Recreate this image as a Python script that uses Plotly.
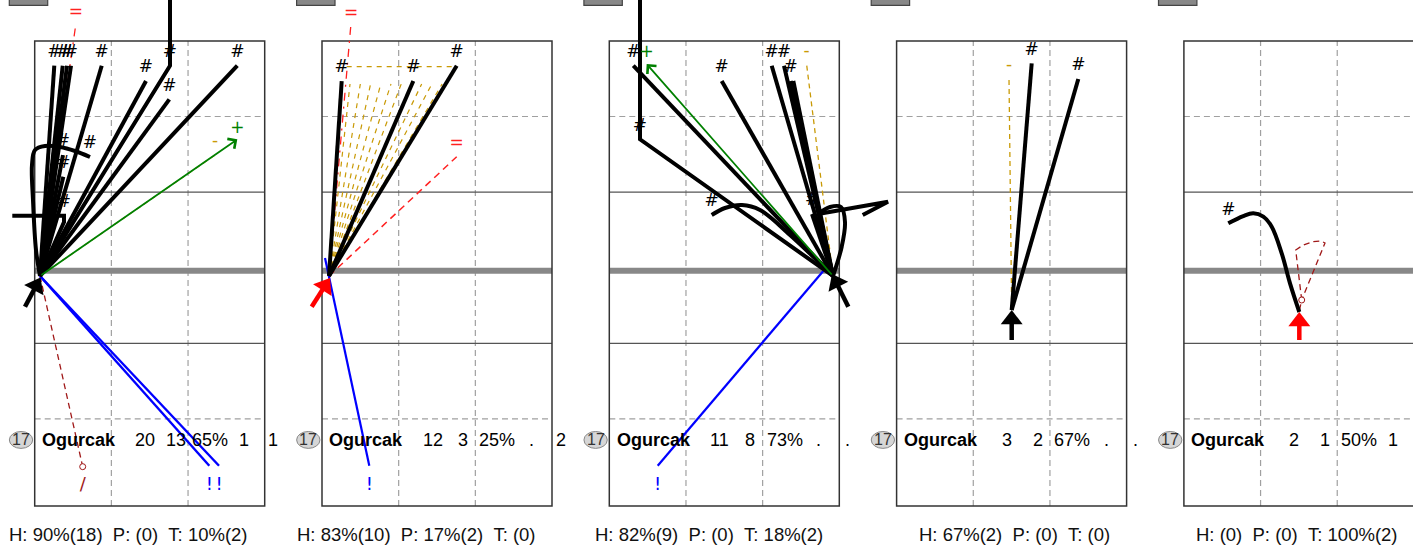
import math
import plotly.graph_objects as go

# ---------------------------------------------------------------- data
PLAYER_NO = "17"
PLAYER = "Ogurcak"
STATS = [
    ["20", "13", "65%", "1", "1"],
    ["12", "3", "25%", ".", "2"],
    ["11", "8", "73%", ".", "."],
    ["3", "2", "67%", ".", "."],
    ["2", "1", "50%", "1", "."],
]
NB = "\u00a0\u00a0"
FOOTERS = [
    "H: 90%(18)" + NB + "P: (0)" + NB + "T: 10%(2)",
    "H: 83%(10)" + NB + "P: 17%(2)" + NB + "T: (0)",
    "H: 82%(9)" + NB + "P: (0)" + NB + "T: 18%(2)",
    "H: 67%(2)" + NB + "P: (0)" + NB + "T: (0)",
    "H: (0)" + NB + "P: (0)" + NB + "T: 100%(2)",
]

# attack origins (court metres, x across 0..9, y: net = 0, positive = far court)
O1 = (0.207, -0.329)
O2 = (0.274, -0.329)
O3 = (8.753, -0.329)
O4 = (4.504, -1.678)
O5 = (4.516, -1.758)

# ---- panel 1
P1_KILLS = [
    [O1, (0.767, 8.016)],
    [O1, (1.096, 8.016)],
    [O1, (1.264, 8.016)],
    [O1, (1.420, 8.016)],
    [O1, (2.622, 8.016)],
    [O1, (4.355, 7.408)],
    [O1, (5.294, 8.016), (5.294, 11.9), (5.294, 8.016)],
    [O1, (5.267, 6.682)],
    [O1, (7.928, 8.016)],
    [O1, (1.107, 4.472)],
    [O1, (1.119, 3.611)],
    [O1, (1.147, 1.813), (1.147, 2.063), (-0.877, 2.063), (1.147, 2.063)],
]
P1_KILL_CURVES = [
    [O1, (0.051, 0.702), (-0.067, 2.686), (-0.106, 4.075), (0.012, 4.670),
     (0.403, 4.829), (0.990, 4.789), (1.577, 4.631), (2.164, 4.392)],
]
P1_PLUS = [[O1, (7.928, 5.095)]]
P1_MINUS = [[O1, (7.055, 4.472)]]
P1_EQUAL = [[O1, (1.616, 9.710)]]
P1_ERRORS = [[O1, (6.832, -7.857)], [O1, (7.212, -7.857)]]
P1_SLASH = [[O1, (1.878, -7.896)]]
P1_RECEPTION = [(-0.380, -1.548), (0.227, -0.389)]

# ---- panel 2
P2_KILLS = [
    [O2, (0.771, 7.408)],
    [O2, (3.573, 7.408)],
    [O2, (5.271, 8.016)],
]
P2_FAN = [
    [O2, (1.096, 7.289)], [O2, (1.500, 7.289)], [O2, (1.900, 7.289)],
    [O2, (2.300, 7.289)], [O2, (2.700, 7.289)], [O2, (3.100, 7.289)],
    [O2, (3.500, 7.289)], [O2, (3.900, 7.289)], [O2, (4.300, 7.289)],
    [O2, (4.700, 7.289)], [O2, (5.050, 7.600)],
    [(0.966, 7.976), (5.271, 7.976)],
]
P2_EQUAL = [[O2, (1.135, 9.698)]]
P2_EQUAL_STEP = [[O2, (5.271, 4.404)]]
P2_ERRORS = [[(0.117, 0.385), (1.851, -7.857)]]
P2_RECEPTION = [(-0.403, -1.548), (0.313, -0.409)]

# ---- panel 3
P3_KILLS = [
    [O3, (0.939, 8.016)],
    [O3, (1.201, 5.095), (1.201, 11.9), (1.201, 5.095)],
    [O3, (4.398, 7.408)],
    [O3, (6.355, 8.016)],
    [O3, (6.836, 8.016)],
    [O3, (7.098, 7.408)],
    [O3, (7.932, 2.131)],
]
P3_PLAIN = [
    [O3, (7.200, 7.408)],
    [(8.166, 2.131), (9.419, 2.369), (10.906, 2.619), (9.916, 2.091)],
]
P3_PLAIN_CURVES = [
    [O3, (9.094, 0.833), (9.223, 1.813), (9.066, 2.409), (8.636, 2.409), (8.166, 2.131)],
]
P3_KILL_CURVES = [
    [O3, (7.071, 1.298), (5.897, 2.290), (5.193, 2.488), (4.527, 2.369), (4.007, 2.091)],
]
P3_PLUS = [[O3, (1.463, 8.083)]]
P3_MINUS = [[O3, (7.724, 8.043)]]
P3_ERRORS = [[(8.440, -0.052), (1.894, -7.857)]]
P3_BLUE_MARKS = [[(8.609, 0.237), (8.714, -0.171)]]
P3_RECEPTION = [(9.352, -1.548), (8.714, -0.250)]

# ---- panel 4
P4_KILLS = [[O4, (5.286, 8.111)], [O4, (7.110, 7.488)]]
P4_MINUS = [[O4, (4.398, 7.515)]]
P4_RECEPTION = [(4.504, -2.869), (4.504, -1.678)]

# ---- panel 5
P5_KILL_CURVES = [
    [O5, (4.152, -0.619), (3.827, 0.571), (3.436, 1.627), (3.107, 2.024),
     (2.716, 2.159), (2.324, 2.051), (1.737, 1.762)],
]
P5_SLASH = [[(4.437, -2.075), (4.610, -1.282)]]
P5_ZONE = [[(4.610, -1.282), (4.375, 0.702), (4.672, 0.901), (5.063, 1.032),
            (5.365, 1.059), (5.521, 0.980), (4.610, -1.282)]]
P5_RECEPTION = [(4.516, -2.869), (4.516, -1.758)]

# ---------------------------------------------------------------- layout constants
W, H = 1413, 546
SX, SY = 25.556, 25.2          # px per metre
NET_PX = 267.7
LEFTS = [34.7, 322.0, 609.3, 896.6, 1183.9]
PAD_L, PAD_R = 34.0, 57.0
TOP, BOTTOM = 9.0, -9.456
FONT = "Liberation Sans, Arial, sans-serif"
SYMFONT = "DejaVu Sans, sans-serif"

BLACK = "#000000"
GREEN = "#008000"
GOLD = "#c99a06"
RED = "#ff2020"
DARKRED = "#a01818"
BLUE = "#0000ff"

fig = go.Figure()
annotations = []
axes = {}
for i, L in enumerate(LEFTS):
    k = "" if i == 0 else str(i + 1)
    d0 = max(0.0, L - PAD_L)
    d1 = min(float(W), L + 230 + PAD_R)
    axes["xaxis" + k] = dict(domain=[d0 / W, d1 / W], range=[(d0 - L) / SX, (d1 - L) / SX],
                             visible=False, fixedrange=True, anchor="y" + k)
    axes["yaxis" + k] = dict(domain=[0, 1], range=[(NET_PX - H) / SY, NET_PX / SY],
                             visible=False, fixedrange=True, anchor="x" + k)


def refs(i):
    k = "" if i == 0 else str(i + 1)
    return "x" + k, "y" + k


def label(i, x, y, txt, color, size, dy_px):
    xr, yr = refs(i)
    fig.add_trace(go.Scatter(x=[x], y=[y + dy_px / SY], mode="text", text=[txt],
                             textposition="middle center", cliponaxis=False,
                             textfont=dict(family=SYMFONT, size=size, color=color),
                             xaxis=xr, yaxis=yr, hoverinfo="skip", showlegend=False))


def paths(i, plist, color, width, dash=None, shape="linear", lab=None, lab_size=17,
          dy_px=13, end_circle=False):
    xr, yr = refs(i)
    for pts in plist:
        fig.add_trace(go.Scatter(x=[p[0] for p in pts], y=[p[1] for p in pts], mode="lines",
                                 line=dict(color=color, width=width, dash=dash, shape=shape),
                                 xaxis=xr, yaxis=yr, hoverinfo="skip", showlegend=False))
        if end_circle:
            fig.add_trace(go.Scatter(x=[pts[-1][0]], y=[pts[-1][1]], mode="markers",
                                     marker=dict(symbol="circle", size=6, color="white",
                                                 line=dict(color=color, width=1)),
                                     xaxis=xr, yaxis=yr, hoverinfo="skip", showlegend=False))
        if lab:
            label(i, pts[-1][0], pts[-1][1], lab, color, lab_size, dy_px)


def green_arrows(i, plist, lab="+"):
    xr, yr = refs(i)
    for pts in plist:
        (x0, y0), (x1, y1) = pts[0], pts[-1]
        annotations.append(dict(x=x1, y=y1, ax=x0, ay=y0, xref=xr, yref=yr, axref=xr, ayref=yr,
                                text="", showarrow=True, arrowhead=4, arrowsize=1.3,
                                arrowwidth=1.8, arrowcolor=GREEN, standoff=0))
        label(i, x1, y1, lab, GREEN, 17, 11)


def reception(i, arrow, color):
    xr, yr = refs(i)
    (tx, ty), (hx, hy) = arrow
    dxp, dyp = (hx - tx) * SX, (hy - ty) * SY
    n = math.hypot(dxp, dyp)
    ux, uy = dxp / n, dyp / n
    ang = math.degrees(math.atan2(ux, uy))
    size = 19
    r = size / 2
    cx, cy = hx - r * ux / SX, hy - r * uy / SY
    fig.add_trace(go.Scatter(x=[tx, cx], y=[ty, cy], mode="lines",
                             line=dict(color=color, width=4.5),
                             xaxis=xr, yaxis=yr, hoverinfo="skip", showlegend=False))
    fig.add_trace(go.Scatter(x=[cx], y=[cy], mode="markers",
                             marker=dict(symbol="triangle-up", size=size, angle=ang, color=color,
                                         line=dict(width=0)),
                             xaxis=xr, yaxis=yr, hoverinfo="skip", showlegend=False))


# ---------------------------------------------------------------- court furniture
shapes = []
for i in range(5):
    xr, yr = refs(i)
    base = dict(xref=xr, yref=yr, layer="below")
    for xv in (3, 6):
        shapes.append(dict(type="line", x0=xv, x1=xv, y0=BOTTOM, y1=TOP,
                           line=dict(color="#a0a0a0", width=1.2, dash="6px,4px"), **base))
    for yv in (6, -6):
        shapes.append(dict(type="line", x0=0, x1=9, y0=yv, y1=yv,
                           line=dict(color="#a0a0a0", width=1.2, dash="6px,4px"), **base))
    for yv in (3, -3):
        shapes.append(dict(type="line", x0=0, x1=9, y0=yv, y1=yv,
                           line=dict(color="#555555", width=1.2), **base))
    shapes.append(dict(type="line", x0=0, x1=9, y0=-0.12, y1=-0.12,
                       line=dict(color="#888888", width=6), **base))
    shapes.append(dict(type="rect", x0=0, x1=9, y0=BOTTOM, y1=TOP,
                       line=dict(color="#333333", width=1.5), fillcolor="rgba(0,0,0,0)", **base))
    # header tab (cut off at top)
    shapes.append(dict(type="rect", x0=-0.994, x1=0.509, y0=10.41, y1=11.5,
                       line=dict(color="#444444", width=1.2), fillcolor="#888888", **base))
    # number badge
    shapes.append(dict(type="circle", x0=-0.992, x1=-0.080, y0=-7.17, y1=-6.50,
                       line=dict(color="#888888", width=1), fillcolor="#d6d6d6",
                       xref=xr, yref=yr, layer="above"))

STAT_X = [4.324, 5.517, 6.867, 8.198, 9.333]
ROW_Y = -6.837
for i in range(5):
    xr, yr = refs(i)
    annotations.append(dict(x=-0.536, y=ROW_Y, xref=xr, yref=yr, text=PLAYER_NO, showarrow=False,
                            font=dict(family=FONT, size=16, color="#333333")))
    annotations.append(dict(x=0.207, y=ROW_Y, xref=xr, yref=yr, text="<b>" + PLAYER + "</b>",
                            showarrow=False, xanchor="left",
                            font=dict(family=FONT, size=18, color="#000000")))
    for sx, s in zip(STAT_X, STATS[i]):
        annotations.append(dict(x=sx, y=ROW_Y, xref=xr, yref=yr, text=s, showarrow=False,
                                font=dict(family=FONT, size=18, color="#000000")))
    annotations.append(dict(x=8.44, y=-10.57, xref=xr, yref=yr, text=FOOTERS[i],
                            showarrow=False, xanchor="right",
                            font=dict(family=FONT, size=18.5, color="#111111")))

# ---------------------------------------------------------------- marks
# panel 1
paths(0, P1_MINUS, GOLD, 1.3, dash="5px,4px", lab="-")
paths(0, P1_EQUAL, RED, 1.3, dash="8px,6px,2px,6px", lab="=", dy_px=10)
paths(0, P1_SLASH, DARKRED, 1.3, dash="6px,4px", lab="/", lab_size=18, dy_px=-19, end_circle=True)
paths(0, P1_ERRORS, BLUE, 2.4, lab="!", lab_size=18, dy_px=-20)
paths(0, P1_KILLS, BLACK, 4, lab="#")
paths(0, P1_KILL_CURVES, BLACK, 4, shape="spline", lab="#")
green_arrows(0, P1_PLUS)
reception(0, P1_RECEPTION, BLACK)

# panel 2
paths(1, P2_FAN, GOLD, 1.2, dash="5px,5px")
paths(1, P2_EQUAL, RED, 1.3, dash="8px,6px,2px,6px", lab="=", dy_px=10)
paths(1, P2_EQUAL_STEP, RED, 1.5, dash="7px,5px", lab="=")
paths(1, P2_ERRORS, BLUE, 2.2, lab="!", lab_size=18, dy_px=-20)
paths(1, P2_KILLS, BLACK, 4, lab="#")
reception(1, P2_RECEPTION, "#ff0000")

# panel 3
paths(2, P3_MINUS, GOLD, 1.3, dash="5px,4px", lab="-")
paths(2, P3_ERRORS, BLUE, 2.2, lab="!", lab_size=18, dy_px=-20)
paths(2, P3_BLUE_MARKS, BLUE, 2.2)
paths(2, P3_KILLS, BLACK, 4, lab="#")
paths(2, P3_PLAIN, BLACK, 4)
paths(2, P3_PLAIN_CURVES, BLACK, 4, shape="spline")
paths(2, P3_KILL_CURVES, BLACK, 4, shape="spline", lab="#")
green_arrows(2, P3_PLUS)
reception(2, P3_RECEPTION, BLACK)

# panel 4
paths(3, P4_MINUS, GOLD, 1.3, dash="5px,4px", lab="-")
paths(3, P4_KILLS, BLACK, 4, lab="#")
reception(3, P4_RECEPTION, BLACK)

# panel 5
paths(4, P5_ZONE, DARKRED, 1.3, dash="6px,4px")
paths(4, P5_SLASH, DARKRED, 1.3, dash="6px,4px", end_circle=True)
paths(4, P5_KILL_CURVES, BLACK, 4, shape="spline", lab="#")
reception(4, P5_RECEPTION, "#ff0000")

fig.update_layout(
    width=W, height=H, autosize=False,
    margin=dict(l=0, r=0, t=0, b=0, pad=0),
    paper_bgcolor="white", plot_bgcolor="rgba(0,0,0,0)",
    showlegend=False, shapes=shapes, annotations=annotations,
    font=dict(family=FONT), hovermode=False,
    **axes,
)
fig.write_html("out.html", config={"displayModeBar": False},
               post_script="document.body.style.margin='0';document.body.style.overflow='hidden';")
